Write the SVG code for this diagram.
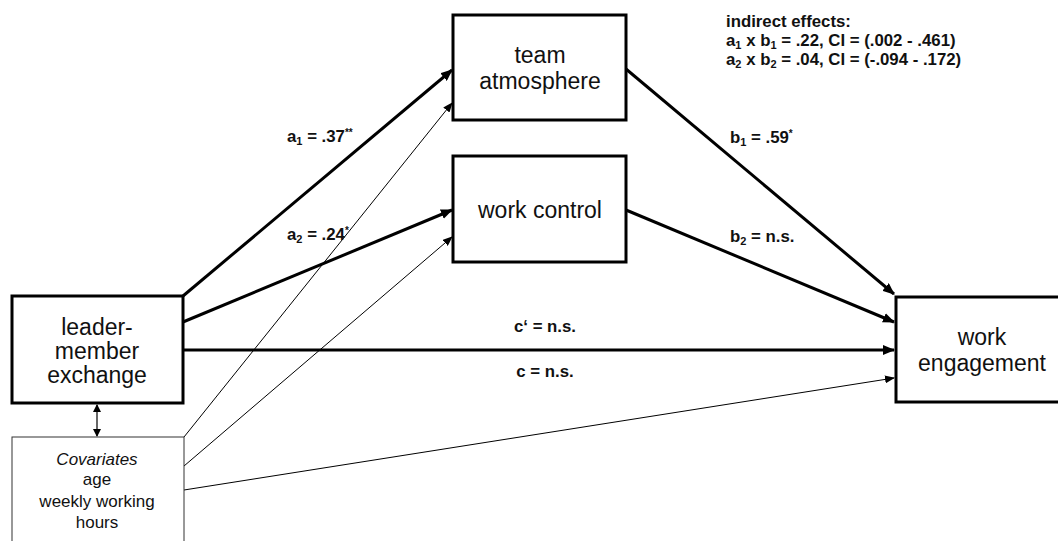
<svg xmlns="http://www.w3.org/2000/svg" width="1058" height="541" viewBox="0 0 1058 541">
<style>
.box{fill:#fff;stroke:#000;stroke-width:3}
.cov{fill:#fff;stroke:#333;stroke-width:1}
.node{font-family:"Liberation Sans",Arial,sans-serif;font-size:23px;fill:#111;text-anchor:middle}
.covt{font-family:"Liberation Sans",Arial,sans-serif;font-size:17px;fill:#111;text-anchor:middle}
.lab{font-family:"Liberation Sans",Arial,sans-serif;font-size:16.8px;font-weight:bold;fill:#111}
.thick{stroke:#000;stroke-width:3;fill:none;marker-end:url(#ah)}
.thin{stroke:#000;stroke-width:1;fill:none;marker-end:url(#ahs)}
</style>
<defs>
<marker id="ah" markerUnits="userSpaceOnUse" markerWidth="12" markerHeight="10" refX="11" refY="5" orient="auto">
<path d="M0,0 L12,5 L0,10 Z" fill="#000"/>
</marker>
<marker id="ahs" markerUnits="userSpaceOnUse" markerWidth="10" markerHeight="8" refX="9" refY="4" orient="auto">
<path d="M0,0 L10,4 L0,8 Z" fill="#000"/>
</marker>
<marker id="ahd" markerUnits="userSpaceOnUse" markerWidth="8" markerHeight="8" refX="7" refY="4" orient="auto-start-reverse">
<path d="M0,0 L8,4 L0,8 Z" fill="#000"/>
</marker>
</defs>

<g id="connectors">
<line class="thick" x1="183" y1="296" x2="452" y2="70"/>
<line class="thick" x1="183" y1="322" x2="452" y2="210"/>
<line class="thick" x1="183" y1="350" x2="894" y2="350"/>
<line class="thick" x1="626" y1="69" x2="894" y2="294"/>
<line class="thick" x1="626" y1="210" x2="894" y2="322"/>
<line class="thin" x1="184" y1="437" x2="452" y2="103"/>
<line class="thin" x1="184" y1="466" x2="452" y2="237"/>
<line class="thin" x1="184" y1="490" x2="894" y2="378"/>
<line x1="97" y1="405" x2="97" y2="436" stroke="#000" stroke-width="1.2" marker-start="url(#ahd)" marker-end="url(#ahd)"/>
</g>

<g id="lmx">
<rect class="box" x="12" y="296" width="171" height="107"/>
<text class="node" x="97" y="335">leader-</text>
<text class="node" x="97" y="359">member</text>
<text class="node" x="97" y="383">exchange</text>
</g>

<g id="covariates">
<rect class="cov" x="12" y="437" width="172" height="120"/>
<text class="covt" x="97" y="465" font-style="italic">Covariates</text>
<text class="covt" x="97" y="485">age</text>
<text class="covt" x="97" y="507">weekly working</text>
<text class="covt" x="97" y="528">hours</text>
</g>

<g id="team-atmosphere">
<rect class="box" x="453" y="15" width="173" height="105"/>
<text class="node" x="540" y="63">team</text>
<text class="node" x="540" y="89">atmosphere</text>
</g>

<g id="work-control">
<rect class="box" x="453" y="156" width="173" height="106"/>
<text class="node" x="540" y="218">work control</text>
</g>

<g id="work-engagement">
<rect class="box" x="896" y="297" width="172" height="105"/>
<text class="node" x="982" y="345">work</text>
<text class="node" x="982" y="371">engagement</text>
</g>

<g id="labels">
<text class="lab" x="287" y="142">a<tspan font-size="11" dy="3">1</tspan><tspan dy="-3"> = .37</tspan><tspan font-size="10" dy="-6">**</tspan></text>
<text class="lab" x="287" y="240">a<tspan font-size="11" dy="3">2</tspan><tspan dy="-3"> = .24</tspan><tspan font-size="10" dy="-6">*</tspan></text>
<text class="lab" x="730" y="143">b<tspan font-size="11" dy="3">1</tspan><tspan dy="-3"> = .59</tspan><tspan font-size="10" dy="-6">*</tspan></text>
<text class="lab" x="730" y="242">b<tspan font-size="11" dy="3">2</tspan><tspan dy="-3"> = n.s.</tspan></text>
<text class="lab" x="545" y="332" text-anchor="middle">c‘ = n.s.</text>
<text class="lab" x="545" y="377" text-anchor="middle">c = n.s.</text>
<text class="lab" x="726" y="27">indirect effects:</text>
<text class="lab" x="726" y="46">a<tspan font-size="11" dy="3">1</tspan><tspan dy="-3"> x b</tspan><tspan font-size="11" dy="3">1</tspan><tspan dy="-3"> = .22, CI = (.002 - .461)</tspan></text>
<text class="lab" x="726" y="65">a<tspan font-size="11" dy="3">2</tspan><tspan dy="-3"> x b</tspan><tspan font-size="11" dy="3">2</tspan><tspan dy="-3"> = .04, CI = (-.094 - .172)</tspan></text>
</g>
</svg>
